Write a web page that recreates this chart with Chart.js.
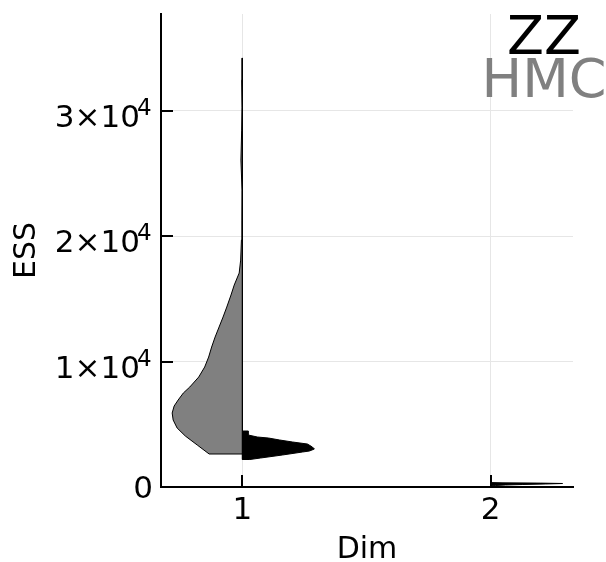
<!DOCTYPE html>
<html><head><meta charset="utf-8">
<script src="https://cdn.jsdelivr.net/npm/chart.js@4.4.1/dist/chart.umd.min.js"></script>
<style>html,body{margin:0;padding:0;background:#fff;} canvas{display:block;}</style>
</head><body>
<canvas id="c" width="606" height="562"></canvas>
<script>
const categories = [1, 2];
const xTickLabels = ['1', '2'];
const yTicks = [0, 10000, 20000, 30000];
const yTickMantissa = ['0', '1', '2', '3'];
const yTickExponent = ['', '4', '4', '4'];
const seriesNames = ['ZZ', 'HMC'];

// HMC, Dim 1 (left half)
const hmcDim1Values = [2629, 3347, 4064, 4701, 5339, 5896, 6454, 6932, 7490, 7968, 8765, 9562, 10358, 11155, 11952, 12749, 13546, 14342, 15300, 16095, 17052, 18087, 19681, 21275, 23665, 26055, 28446, 30278, 32430, 34183];
const hmcDim1Widths = [0.134, 0.182, 0.230, 0.263, 0.279, 0.283, 0.275, 0.259, 0.238, 0.212, 0.176, 0.152, 0.136, 0.124, 0.110, 0.094, 0.078, 0.063, 0.046, 0.033, 0.013, 0.007, 0.004, 0.002, 0.0015, 0.006, 0.003, 0.0015, 0.003, 0.002];
// ZZ, Dim 1 (right half)
const zzDim1Values = [2191, 2311, 2550, 2789, 2869, 3028, 3187, 3426, 3586, 3745, 3904, 3984, 4143, 4462];
const zzDim1Widths = [0.03, 0.073, 0.161, 0.242, 0.27, 0.29, 0.282, 0.262, 0.202, 0.15, 0.105, 0.06, 0.024, 0.024];
// ZZ, Dim 2 (right half)
const zzDim2Values = [80, 120, 160, 200, 240, 280, 310, 330, 350];
const zzDim2Widths = [0.003, 0.02, 0.06, 0.13, 0.22, 0.29, 0.2, 0.05, 0.004];

function halfViolin(pos, values, widths, side) {
  const s = side === 'left' ? -1 : 1;
  const pts = [{x: pos, y: values[0]}];
  values.forEach((v, i) => pts.push({x: pos + s * widths[i], y: v}));
  pts.push({x: pos, y: values[values.length - 1]});
  pts.push({x: pos, y: values[0]});
  return pts;
}

const FONT = 'DejaVu Sans';

const decor = {
  id: 'decor',
  afterDraw(chart) {
    const {ctx, chartArea, scales: {x, y}} = chart;
    ctx.save();
    ctx.strokeStyle = '#000';
    ctx.lineWidth = 2;
    yTicks.forEach(v => {
      if (v === 0) return;
      const py = Math.round(y.getPixelForValue(v));
      ctx.beginPath(); ctx.moveTo(chartArea.left, py); ctx.lineTo(chartArea.left + 12, py); ctx.stroke();
    });
    categories.forEach(c => {
      const px = Math.round(x.getPixelForValue(c));
      ctx.beginPath(); ctx.moveTo(px, chartArea.bottom); ctx.lineTo(px, chartArea.bottom - 12); ctx.stroke();
    });
    // y tick labels with superscripts
    ctx.fillStyle = '#000';
    ctx.textBaseline = 'alphabetic';
    yTicks.forEach((v, i) => {
      const py = y.getPixelForValue(v);
      if (!yTickExponent[i]) {
        ctx.font = '31px "' + FONT + '"';
        ctx.textAlign = 'right';
        ctx.fillText(yTickMantissa[i], 153, py + 11);
      } else {
        ctx.font = '23px "' + FONT + '"';
        ctx.textAlign = 'left';
        ctx.fillText(yTickExponent[i], 137, py + 4);
        ctx.font = '31px "' + FONT + '"';
        ctx.textAlign = 'right';
        ctx.fillText(yTickMantissa[i] + '\u00d710', 140, py + 16);
      }
    });
    // series annotations
    ctx.font = '54px "' + FONT + '"';
    ctx.textAlign = 'center';
    ctx.fillStyle = '#000';
    ctx.fillText(seriesNames[0], 544, 54);
    ctx.fillStyle = '#808080';
    ctx.fillText(seriesNames[1], 544, 97);
    ctx.restore();
  }
};

new Chart(document.getElementById('c'), {
  type: 'scatter',
  data: {
    datasets: [
      {label: 'HMC dim 1', data: halfViolin(categories[0], hmcDim1Values, hmcDim1Widths, 'left'),
       showLine: true, fill: 'shape', backgroundColor: '#808080', borderColor: '#000', borderWidth: 1, pointRadius: 0, tension: 0},
      {label: 'ZZ dim 1', data: halfViolin(categories[0], zzDim1Values, zzDim1Widths, 'right'),
       showLine: true, fill: 'shape', backgroundColor: '#000', borderColor: '#000', borderWidth: 1, pointRadius: 0, tension: 0},
      {label: 'ZZ dim 2', data: halfViolin(categories[1], zzDim2Values, zzDim2Widths, 'right'),
       showLine: true, fill: 'shape', backgroundColor: '#000', borderColor: '#000', borderWidth: 1, pointRadius: 0, tension: 0}
    ]
  },
  options: {
    responsive: false,
    animation: false,
    devicePixelRatio: 1,
    layout: {padding: {left: 0, right: 33, top: 14, bottom: 0}},
    plugins: {legend: {display: false}, tooltip: {enabled: false}},
    scales: {
      x: {
        type: 'linear', min: 0.672, max: 2.332,
        afterBuildTicks: s => { s.ticks = categories.map(v => ({value: v})); },
        afterFit: s => { s.height = 75; },
        grid: {color: '#e6e6e6', lineWidth: 1, drawTicks: false},
        border: {display: true, color: '#000', width: 2},
        ticks: {font: {family: FONT, size: 31, lineHeight: 1.2}, color: '#000', padding: 5, maxRotation: 0, autoSkip: false,
                callback: (v) => xTickLabels[categories.indexOf(v)]},
        title: {display: true, text: 'Dim', color: '#000', font: {family: FONT, size: 30, lineHeight: 1}, padding: {top: 0, bottom: -3}}
      },
      y: {
        type: 'linear', min: 0, max: 37700,
        afterBuildTicks: s => { s.ticks = yTicks.map(v => ({value: v})); },
        afterFit: s => { s.width = 161; },
        grid: {color: '#e6e6e6', lineWidth: 1, drawTicks: false},
        border: {display: true, color: '#000', width: 2},
        ticks: {display: false},
        title: {display: true, text: 'ESS', color: '#000', font: {family: FONT, size: 30, lineHeight: 1}, padding: {top: 12, bottom: 0}}
      }
    }
  },
  plugins: [decor]
});
</script>
</body></html>
